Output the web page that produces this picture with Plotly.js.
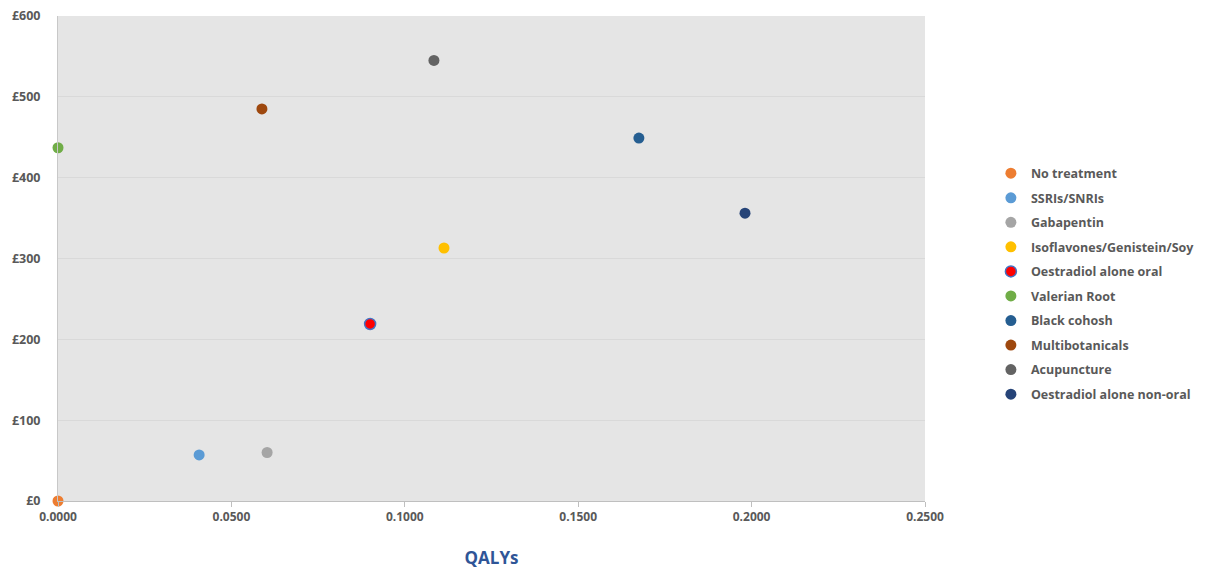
<!DOCTYPE html>
<html>
<head>
<meta charset="utf-8">
<script src="https://cdn.plot.ly/plotly-3.0.1.min.js"></script>
<style>html,body{margin:0;padding:0;background:#fff;}#chart{width:1216px;height:569px;}</style>
</head>
<body>
<div id="chart"></div>
<script>
const treatments = ["No treatment","SSRIs/SNRIs","Gabapentin","Isoflavones/Genistein/Soy","Oestradiol alone oral","Valerian Root","Black cohosh","Multibotanicals","Acupuncture","Oestradiol alone non-oral"];
const qalys = [0.0000, 0.0407, 0.0603, 0.1113, 0.0900, 0.0000, 0.1675, 0.0588, 0.1084, 0.1981];
const costs = [0, 57, 60, 313, 219, 437, 449, 485, 545, 356];
const colors = ["#ED7D31","#5B9BD5","#A5A5A5","#FFC000","#FF0000","#70AD47","#255E91","#9E480E","#636363","#264478"];
const lineColors = ["#ED7D31","#5B9BD5","#A5A5A5","#FFC000","#4472C4","#70AD47","#255E91","#9E480E","#636363","#264478"];

const traces = treatments.map((name, i) => ({
  type: "scatter",
  mode: "markers",
  name: name,
  legendgroup: "g" + i,
  x: [qalys[i]],
  y: [costs[i]],
  marker: {color: colors[i], size: 11, line: {color: lineColors[i], width: i === 4 ? 1.5 : 0}},
  cliponaxis: false
}));

const layout = {
  width: 1216, height: 569,
  margin: {l: 58, r: 291, t: 16, b: 68, autoexpand: false},
  paper_bgcolor: "#ffffff",
  plot_bgcolor: "#E5E5E5",
  font: {family: "Open Sans, Liberation Sans, sans-serif", color: "#595959"},
  showlegend: true,
  legend: {
    x: 1.076, y: 0.706, xanchor: "left", yanchor: "top",
    font: {size: 12.5, color: "#595959", family: "Open Sans, sans-serif", weight: "bold"},
    tracegroupgap: 5.3, itemwidth: 30, bgcolor: "rgba(0,0,0,0)"
  },
  xaxis: {
    range: [0, 0.25], dtick: 0.05, tickformat: ".4f",
    showgrid: false, zeroline: false,
    showline: true, linecolor: "#BFBFBF", linewidth: 1,
    ticks: "outside", ticklen: 5, tickcolor: "#BFBFBF",
    tickfont: {size: 12, color: "#595959", weight: "bold"},
    title: {text: "QALYs", font: {size: 17, color: "#2F5597", weight: "bold"}, standoff: 28},
    fixedrange: true
  },
  yaxis: {
    range: [0, 600], dtick: 100, tickprefix: "£",
    showgrid: true, gridcolor: "#D9D9D9", gridwidth: 1,
    zeroline: false, showline: true, linecolor: "#C8C8C8", linewidth: 1,
    ticks: "outside", ticklen: 14, tickcolor: "rgba(0,0,0,0)",
    tickfont: {size: 12.5, color: "#595959", weight: "bold"},
    fixedrange: true
  }
};

Plotly.newPlot("chart", traces, layout, {displayModeBar: false, staticPlot: true});
</script>
</body>
</html>
